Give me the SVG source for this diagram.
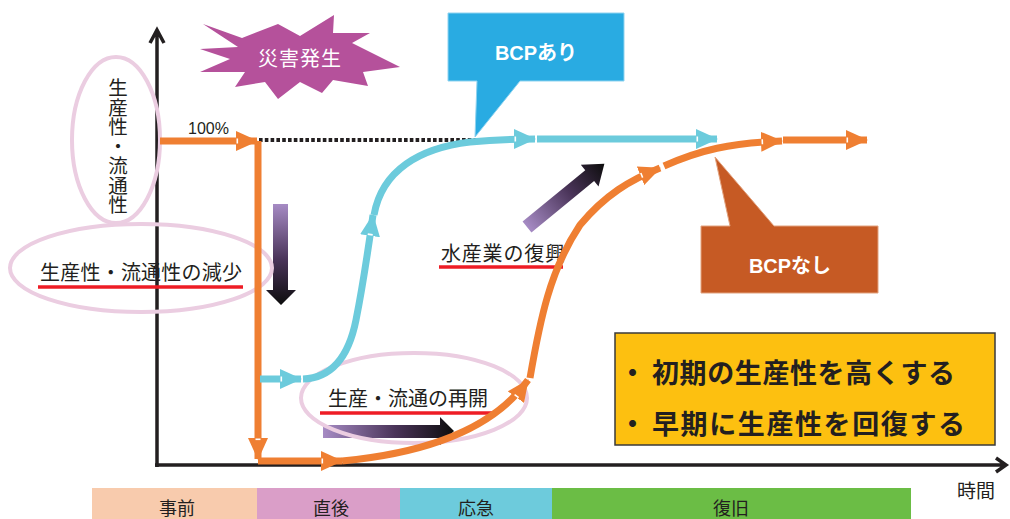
<svg xmlns="http://www.w3.org/2000/svg" width="1010" height="519" viewBox="0 0 1010 519">
<style>
.jp{font-family:"Noto Sans CJK JP","Noto Sans",sans-serif;fill:#231f20}
.lbl{font-size:20px}
.band{font-size:18px}
.ell{fill:none;stroke:#ebcde1;stroke-width:4}
.ul{stroke:#ee1c25;stroke-width:3.5}
.org{fill:none;stroke:#ef7f32;stroke-width:7;marker-end:url(#ao)}
.cyn{fill:none;stroke:#6ccbdc;stroke-width:7;marker-end:url(#ac)}
.axis{fill:none;stroke:#231f20;stroke-width:3.5}
.wt{font-family:"Liberation Sans","Noto Sans CJK JP",sans-serif;fill:#fff;font-weight:bold;font-size:20px}
</style>
<defs>
<marker id="ao" markerUnits="userSpaceOnUse" markerWidth="22" markerHeight="20" viewBox="0 0 22 20" refX="21" refY="10" orient="auto">
<path d="M0,0 L22,10 L0,20 Z" fill="#ef7f32"/><rect x="0.5" y="7.5" width="1.6" height="5" fill="#fff"/>
</marker>
<marker id="ac" markerUnits="userSpaceOnUse" markerWidth="22" markerHeight="20" viewBox="0 0 22 20" refX="21" refY="10" orient="auto">
<path d="M0,0 L22,10 L0,20 Z" fill="#6ccbdc"/><rect x="0.5" y="7.5" width="1.6" height="5" fill="#fff"/>
</marker>
<linearGradient id="gv" x1="0" y1="0" x2="0" y2="1">
<stop offset="0" stop-color="#a68bc4"/><stop offset="0.55" stop-color="#4a3459"/><stop offset="1" stop-color="#0d0d0d"/>
</linearGradient>
<linearGradient id="gh" x1="0" y1="0" x2="1" y2="0">
<stop offset="0" stop-color="#a68bc4"/><stop offset="0.55" stop-color="#4a3459"/><stop offset="1" stop-color="#0d0d0d"/>
</linearGradient>
</defs>

<g id="phase-bands">
<rect x="92" y="488" width="165" height="31" fill="#f8cbad"/>
<rect x="257" y="488" width="143" height="31" fill="#da9ec8"/>
<rect x="400" y="488" width="152" height="31" fill="#6dcbdc"/>
<rect x="552" y="488" width="359" height="31" fill="#6bbd45"/>
<text class="jp band" x="177" y="515" text-anchor="middle">事前</text>
<text class="jp band" x="331" y="515" text-anchor="middle">直後</text>
<text class="jp band" x="476" y="515" text-anchor="middle">応急</text>
<text class="jp band" x="731" y="515" text-anchor="middle">復旧</text>
</g>

<g id="axes">
<path class="axis" d="M157,467 V30 M150,43 L157,30 L164,43"/>
<path class="axis" d="M155,465 H1005 M996,458 L1006,465 L996,472"/>
<text class="jp" x="976" y="498" font-size="19" text-anchor="middle">時間</text>
</g>

<g id="trend-arrows">
<path d="M273,204 H288 V290 H296 L281,305 L266,290 H273 Z" fill="url(#gv)"/>
<path d="M323,425 H440 V417 L454,431 L440,445 V438 H323 Z" fill="url(#gh)"/>
<path transform="translate(527,227) rotate(-39.3)" d="M0,-7 H81 V-14 L100,0 L81,14 V7 H0 Z" fill="url(#gh)"/>
</g>

<g id="node-productivity">
<ellipse class="ell" cx="116" cy="140" rx="44" ry="83"/>
<text class="jp" x="118" y="78" font-size="19.5" writing-mode="vertical-rl">生産性・流通性</text>
</g>

<g id="node-decrease">
<ellipse class="ell" cx="141" cy="268" rx="131" ry="44"/>
<text class="jp lbl" x="40" y="280" textLength="202" lengthAdjust="spacing">生産性・流通性の減少</text>
<line class="ul" x1="38" y1="287" x2="243" y2="287"/>
</g>

<g id="node-restart">
<ellipse class="ell" cx="414" cy="398" rx="113" ry="45"/>
<text class="jp lbl" x="328" y="406" textLength="160" lengthAdjust="spacing">生産・流通の再開</text>
<line class="ul" x1="320" y1="413" x2="497" y2="413"/>
</g>

<g id="node-recovery">
<text class="jp lbl" x="441" y="261" textLength="124" lengthAdjust="spacing">水産業の復興</text>
<line class="ul" x1="439" y1="267" x2="563" y2="267"/>
</g>

<g id="node-100">
<text x="188" y="134" font-family="Liberation Sans, sans-serif" font-size="16" fill="#231f20">100%</text>
</g>

<g id="connectors">
<path d="M259,140 H478" fill="none" stroke="#231f20" stroke-width="4" stroke-dasharray="3.6 2.2"/>
<path class="org" d="M160,141 H257"/>
<path class="org" d="M258,141 V459"/>
<path class="org" d="M258,461 H342"/>
<path class="org" d="M342,461 Q480,448 528,380"/>
<path class="org" d="M530,378 C540,320 550,270 580,225 C605,195 630,180 660,168"/>
<path class="org" d="M664,166 C700,150 730,143 782,141"/>
<path class="org" d="M783,140 H867"/>
<path class="cyn" d="M260,379 H301"/>
<path class="cyn" d="M303,379 C330,378 348,360 356,320 C364,280 368,250 373,215"/>
<path class="cyn" d="M374,215 C382,170 420,148 470,142 C490,140 505,139 535,139"/>
<path class="cyn" d="M537,139 H717"/>
</g>

<g id="node-disaster">
<polygon points="203,24 242,38 278,24 300,36 334,15 333,33 370,33 352,43 400,67 363,72 368,86 333,80 322,93 300,82 278,99 265,82 235,87 245,72 200,72 230,59 200,49 238,47" fill="#b5519b"/>
<text class="jp" x="300" y="66" font-size="20" style="fill:#fff" text-anchor="middle" letter-spacing="1">災害発生</text>
</g>

<g id="node-bcp-yes">
<path d="M448,13 H624 V81 H520 L475,137 L477,81 H448 Z" fill="#29abe2" stroke="#8fd3f0" stroke-width="1"/>
<text class="wt" x="536" y="60" text-anchor="middle">BCPあり</text>
</g>

<g id="node-bcp-no">
<path d="M701,226 H730 L715,157 L774,226 H878 V293 H701 Z" fill="#c65a24" stroke="#e2a27e" stroke-width="1"/>
<text class="wt" x="790" y="273" text-anchor="middle">BCPなし</text>
</g>

<g id="node-goals">
<rect x="615" y="333" width="380" height="112" fill="#fdc010" stroke="#3a3a3a" stroke-width="1.5"/>
<text class="jp" font-size="27" font-weight="bold"><tspan x="619" y="383">・</tspan><tspan x="652" y="383" textLength="303" lengthAdjust="spacing">初期の生産性を高くする</tspan></text>
<text class="jp" font-size="27" font-weight="bold"><tspan x="619" y="434">・</tspan><tspan x="652" y="434" textLength="313" lengthAdjust="spacing">早期に生産性を回復する</tspan></text>
</g>
</svg>
